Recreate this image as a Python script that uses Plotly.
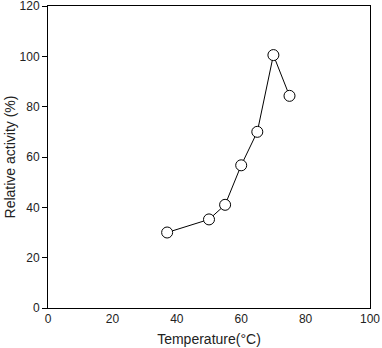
import plotly.graph_objects as go

temperature = [37, 50, 55, 60, 65, 70, 75]
relative_activity = [30, 35.2, 41, 56.7, 70, 100.5, 84.3]
x_ticks = [0, 20, 40, 60, 80, 100]
y_ticks = [0, 20, 40, 60, 80, 100, 120]

fig = go.Figure()
fig.add_trace(go.Scatter(
    x=temperature, y=relative_activity, mode="lines+markers",
    line=dict(color="black", width=1),
    marker=dict(symbol="circle", size=11, color="white",
                line=dict(color="black", width=1)),
    showlegend=False, cliponaxis=False,
))

font = "Liberation Sans, Arial, sans-serif"
fig.update_layout(
    width=382, height=348,
    margin=dict(l=48, r=12, t=6, b=40),
    paper_bgcolor="white", plot_bgcolor="white",
    font=dict(family=font, color="#222", size=12),
)
fig.update_xaxes(
    range=[0, 100], tickvals=x_ticks, ticks="", showgrid=False, zeroline=False,
    showline=True, linecolor="black", linewidth=1, mirror=True, automargin=False,
    ticklabeloverflow="allow",
    title=dict(text="Temperature(°C)", font=dict(size=14), standoff=8),
    tickfont=dict(size=12),
)
fig.update_yaxes(
    range=[0, 120], tickvals=y_ticks, ticks="outside", ticklen=5, tickcolor="black",
    showgrid=False, zeroline=False, automargin=False, ticklabeloverflow="allow",
    showline=True, linecolor="black", linewidth=1, mirror=True,
    title=dict(text="Relative activity (%)", font=dict(size=14), standoff=0),
    tickfont=dict(size=12),
)
fig.write_html("out.html", config={"displayModeBar": False},
               post_script="document.body.style.margin='0';document.body.style.overflow='hidden';")
